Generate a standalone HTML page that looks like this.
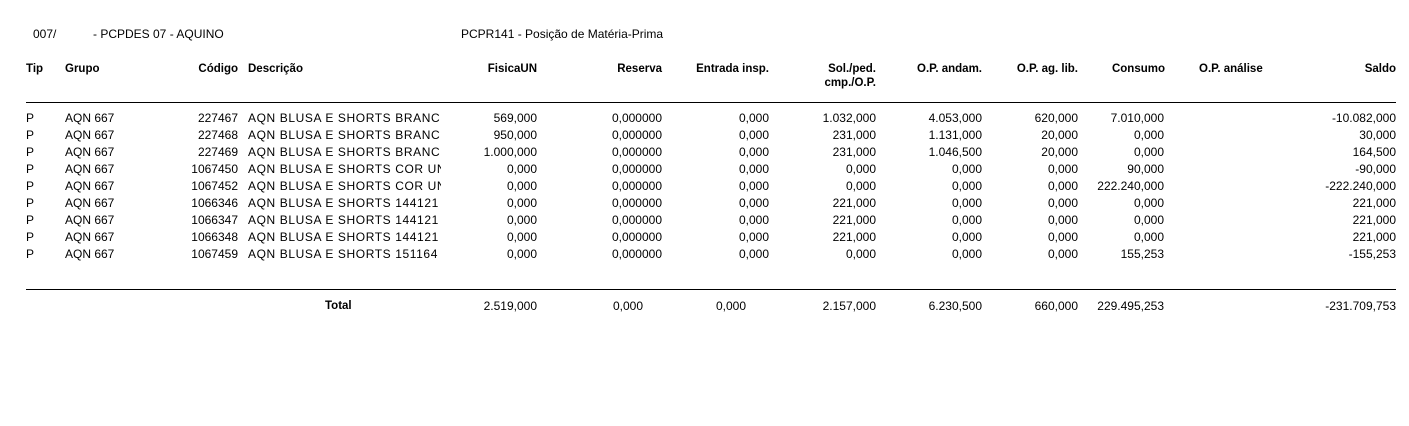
<!DOCTYPE html>
<html><head><meta charset="utf-8"><style>
body{margin:0;width:1409px;height:426px;background:#fff;position:relative;overflow:hidden;font-family:"Liberation Sans",Arial,sans-serif;font-size:12px;color:#000}
.t{position:absolute;white-space:nowrap;line-height:14px}
.b{font-weight:bold;font-size:11.5px}
.ln{position:absolute;left:26px;width:1370px;height:1px;background:#000}
.d{overflow:hidden;width:193px;letter-spacing:0.6px}
</style></head><body>
<div class="t" style="left:33px;top:27px">007/</div>
<div class="t" style="left:93px;top:27px">- PCPDES 07 - AQUINO</div>
<div class="t" style="left:461px;top:27px">PCPR141 - Posição de Matéria-Prima</div>

<div class="t b" style="left:26px;top:62px">Tip</div>
<div class="t b" style="left:65px;top:62px">Grupo</div>
<div class="t b" style="right:1171px;top:62px">Código</div>
<div class="t b" style="left:248px;top:62px">Descrição</div>
<div class="t b" style="right:872px;top:62px">FisicaUN</div>
<div class="t b" style="right:747px;top:62px">Reserva</div>
<div class="t b" style="right:640px;top:62px">Entrada insp.</div>
<div class="t b" style="right:533px;top:62px;text-align:right">Sol./ped.<br>cmp./O.P.</div>
<div class="t b" style="right:427px;top:62px">O.P. andam.</div>
<div class="t b" style="right:331px;top:62px">O.P. ag. lib.</div>
<div class="t b" style="right:244px;top:62px">Consumo</div>
<div class="t b" style="left:1199px;top:62px">O.P. análise</div>
<div class="t b" style="right:13px;top:62px">Saldo</div>
<div class="ln" style="top:102px"></div>

<div id="rows"></div>
<div class="ln" style="top:289px"></div>
<div class="t b" style="left:325px;top:299px">Total</div>
<div class="t" style="right:872px;top:299px">2.519,000</div>
<div class="t" style="right:766px;top:299px">0,000</div>
<div class="t" style="right:663px;top:299px">0,000</div>
<div class="t" style="right:533px;top:299px">2.157,000</div>
<div class="t" style="right:427px;top:299px">6.230,500</div>
<div class="t" style="right:331px;top:299px">660,000</div>
<div class="t" style="right:245px;top:299px">229.495,253</div>
<div class="t" style="right:13px;top:299px">-231.709,753</div>
</body>
<script>
var R=[
["227467","AQN BLUSA E SHORTS BRANC","569,000","0,000000","0,000","1.032,000","4.053,000","620,000","7.010,000","-10.082,000"],
["227468","AQN BLUSA E SHORTS BRANC","950,000","0,000000","0,000","231,000","1.131,000","20,000","0,000","30,000"],
["227469","AQN BLUSA E SHORTS BRANC","1.000,000","0,000000","0,000","231,000","1.046,500","20,000","0,000","164,500"],
["1067450","AQN BLUSA E SHORTS COR UNICA","0,000","0,000000","0,000","0,000","0,000","0,000","90,000","-90,000"],
["1067452","AQN BLUSA E SHORTS COR UNICA","0,000","0,000000","0,000","0,000","0,000","0,000","222.240,000","-222.240,000"],
["1066346","AQN BLUSA E SHORTS 144121","0,000","0,000000","0,000","221,000","0,000","0,000","0,000","221,000"],
["1066347","AQN BLUSA E SHORTS 144121","0,000","0,000000","0,000","221,000","0,000","0,000","0,000","221,000"],
["1066348","AQN BLUSA E SHORTS 144121","0,000","0,000000","0,000","221,000","0,000","0,000","0,000","221,000"],
["1067459","AQN BLUSA E SHORTS 151164","0,000","0,000000","0,000","0,000","0,000","0,000","155,253","-155,253"]];
var rights=[872,747,640,533,427,331,245,13];
var h="";
R.forEach(function(r,i){var y=111+i*17;
h+='<div class="t" style="left:26px;top:'+y+'px">P</div>';
h+='<div class="t" style="left:65px;top:'+y+'px">AQN 667</div>';
h+='<div class="t" style="right:1171px;top:'+y+'px">'+r[0]+'</div>';
h+='<div class="t d" style="left:248px;top:'+y+'px">'+r[1]+'</div>';
for(var k=0;k<8;k++)h+='<div class="t" style="right:'+rights[k]+'px;top:'+y+'px">'+r[k+2]+'</div>';
});
document.getElementById("rows").innerHTML=h;
</script>
</html>
